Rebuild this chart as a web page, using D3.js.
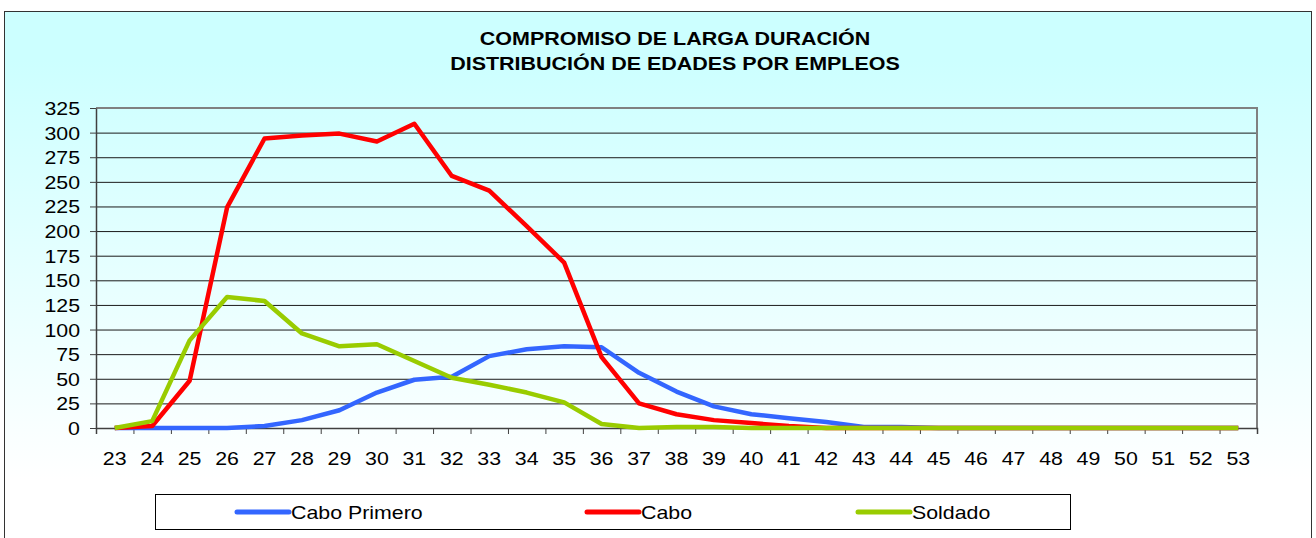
<!DOCTYPE html>
<html>
<head>
<meta charset="utf-8">
<script src="https://cdn.jsdelivr.net/npm/d3@7"></script>
<style>
  html, body { margin: 0; padding: 0; background: #fff; }
  svg { display: block; font-family: "Liberation Sans", Arial, sans-serif; }
</style>
</head>
<body>
<svg id="chart" width="1316" height="538"></svg>
<script>
// Age categories (x axis)
const ages = ["23","24","25","26","27","28","29","30","31","32","33","34","35","36","37","38",
              "39","40","41","42","43","44","45","46","47","48","49","50","51","52","53"];

// Counts per rank and age
const caboPrimero = [0,0,0,0,2,8,18,36,49,52,73,80,83,82,56,37,22,14,10,6,1,1,0,0,0,0,0,0,0,0,0];
const cabo        = [0,2,48,224,294,297,299,291,309,256,241,205,168,72,25,14,8,5,2,0,0,0,0,0,0,0,0,0,0,0,0];
const soldado     = [0,7,89,133,129,96,83,85,68,51,44,36,26,4,0,1,1,0,0,0,0,0,0,0,0,0,0,0,0,0,0];

const seriesNames = ["Cabo Primero", "Cabo", "Soldado"];
const seriesColors = ["#3366ff", "#ff0000", "#99cc00"];
const yTicks = [0,25,50,75,100,125,150,175,200,225,250,275,300,325];
const titleLines = ["COMPROMISO DE LARGA DURACIÓN", "DISTRIBUCIÓN DE EDADES POR EMPLEOS"];

const svg = d3.select("#chart");
const W = 1316, H = 538;
const plot = { left: 96, right: 1257, top: 108, bottom: 428 };
const stretch = 1.22; // horizontal text stretch

// background gradient
const defs = svg.append("defs");
const grad = defs.append("linearGradient")
  .attr("id", "bg").attr("gradientUnits", "userSpaceOnUse")
  .attr("x1", 0).attr("y1", 60).attr("x2", 0).attr("y2", 480);
grad.append("stop").attr("offset", 0).attr("stop-color", "#ccffff");
grad.append("stop").attr("offset", 1).attr("stop-color", "#ffffff");

svg.append("rect").attr("width", W).attr("height", H).attr("fill", "#fff");
svg.append("rect")
  .attr("x", 4.5).attr("y", 11.5).attr("width", 1307).attr("height", 540)
  .attr("fill", "url(#bg)").attr("stroke", "#333").attr("stroke-width", 1);

// title
svg.append("g").selectAll("text").data(titleLines).join("text")
  .attr("transform", (d, i) => `translate(675,${45 + i * 25}) scale(${stretch},1)`)
  .attr("text-anchor", "middle")
  .attr("font-weight", "bold")
  .attr("font-size", 17.6)
  .attr("fill", "#000")
  .text(d => d);

// scales
const x = d3.scaleBand().domain(ages).range([plot.left, plot.right]).padding(0);
const xc = a => x(a) + x.bandwidth() / 2;
const y = d3.scaleLinear().domain([0, 325]).range([plot.bottom, plot.top]);

// horizontal gridlines
svg.append("g")
  .attr("transform", `translate(${plot.left},0)`)
  .call(d3.axisLeft(y).tickValues(yTicks.filter(v => v > 0 && v < 325))
    .tickSize(-(plot.right - plot.left)).tickFormat(""))
  .call(g => g.select(".domain").remove())
  .call(g => g.selectAll("line").attr("stroke", "#1a1a1a").attr("stroke-width", 1));

// plot frame (top and right)
svg.append("line").attr("x1", plot.left).attr("x2", plot.right)
  .attr("y1", plot.top).attr("y2", plot.top)
  .attr("stroke", "#808080").attr("stroke-width", 2);
svg.append("line").attr("x1", plot.right).attr("x2", plot.right)
  .attr("y1", plot.top - 1).attr("y2", plot.bottom)
  .attr("stroke", "#808080").attr("stroke-width", 2);

// y axis
svg.append("g")
  .attr("transform", `translate(${plot.left},0)`)
  .call(d3.axisLeft(y).tickValues(yTicks).tickSize(6).tickSizeOuter(0))
  .call(g => g.select(".domain").attr("stroke", "#404040").attr("stroke-width", 1.5))
  .call(g => g.selectAll(".tick line").attr("stroke", "#404040"))
  .call(g => g.selectAll(".tick text")
    .attr("x", null).attr("dy", null)
    .attr("transform", `translate(-16,6.5) scale(${stretch},1)`)
    .attr("font-size", 17.5)
    .attr("font-family", "'Liberation Sans', Arial, sans-serif")
    .attr("fill", "#000"));

// x axis: boundary ticks
const xIdx = d3.scaleLinear().domain([0, ages.length]).range([plot.left, plot.right]);
svg.append("g")
  .attr("transform", `translate(0,${plot.bottom})`)
  .call(d3.axisBottom(xIdx).tickValues(d3.range(0, ages.length + 1)).tickSize(6).tickFormat(""))
  .call(g => g.select(".domain").attr("stroke", "#404040").attr("stroke-width", 1.5))
  .call(g => g.selectAll(".tick line").attr("stroke", "#404040"));

// x axis: category labels
svg.append("g")
  .attr("transform", `translate(0,${plot.bottom})`)
  .call(d3.axisBottom(x).tickSize(0).tickSizeOuter(0))
  .call(g => g.select(".domain").remove())
  .call(g => g.selectAll(".tick text")
    .attr("y", null).attr("dy", null)
    .attr("transform", `translate(0,37) scale(${stretch},1)`)
    .attr("font-size", 17.5)
    .attr("font-family", "'Liberation Sans', Arial, sans-serif")
    .attr("fill", "#000"));

// lines
const allSeries = [caboPrimero, cabo, soldado];
const line = d3.line().x((d, i) => xc(ages[i])).y(d => y(d));
svg.append("g").selectAll("path").data(allSeries).join("path")
  .attr("d", d => line(d))
  .attr("fill", "none")
  .attr("stroke", (d, i) => seriesColors[i])
  .attr("stroke-width", 4.5)
  .attr("stroke-linejoin", "round")
  .attr("stroke-linecap", "butt");

// legend
const legend = svg.append("g");
legend.append("rect")
  .attr("x", 155.5).attr("y", 494.5).attr("width", 915).attr("height", 35)
  .attr("fill", "#fff").attr("stroke", "#000").attr("stroke-width", 1);
const legendX = [237, 587, 858];
const items = legend.selectAll("g.item").data(seriesNames).join("g")
  .attr("class", "item")
  .attr("transform", (d, i) => `translate(${legendX[i]},512)`);
items.append("line")
  .attr("x1", 0).attr("x2", 52).attr("y1", 0).attr("y2", 0)
  .attr("stroke", (d, i) => seriesColors[i])
  .attr("stroke-width", 5).attr("stroke-linecap", "round");
items.append("text")
  .attr("transform", `translate(54,6.5) scale(${stretch},1)`)
  .attr("font-size", 17.5)
  .attr("fill", "#000")
  .text(d => d);
</script>
</body>
</html>
